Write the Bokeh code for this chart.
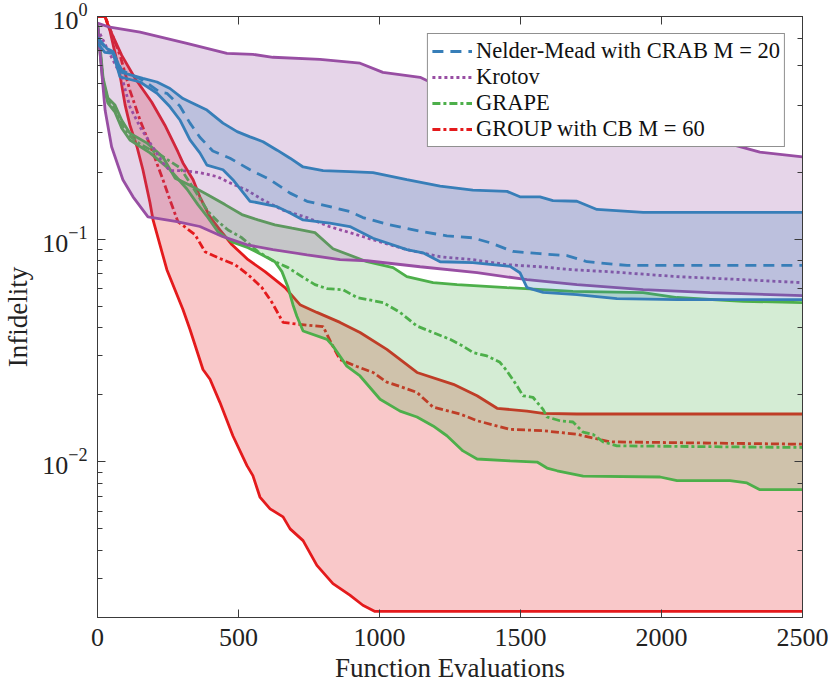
import numpy as np
from bokeh.plotting import figure
from bokeh.models import (LogAxis, LinearAxis, Legend, LegendItem, Range1d,
                          FixedTicker, LogTicker)
from bokeh.embed import file_html
from bokeh.resources import INLINE

# ---------------- data (function evaluations, infidelity) ----------------
# Nelder-Mead with CRAB M = 20 (blue)
nm_hi_x = [0, 33, 55, 86, 161, 211, 257, 303, 338, 388, 445, 495, 541, 587, 637, 683, 729, 800, 895, 977,
           1097, 1215, 1331, 1452, 1498, 1569, 1615, 1700, 1771, 1935, 2500]
nm_hi_y = [0.805, 0.719, 0.697, 0.561, 0.527, 0.508, 0.475, 0.428, 0.408, 0.380, 0.332, 0.304, 0.288, 0.274,
           0.251, 0.231, 0.211, 0.203, 0.201, 0.199, 0.185, 0.173, 0.166, 0.164, 0.155, 0.155, 0.149, 0.148,
           0.136, 0.132, 0.132]
nm_lo_x = [0, 26, 55, 80, 151, 211, 257, 293, 328, 363, 388, 445, 480, 541, 637, 683, 729, 824, 895, 977,
           1097, 1154, 1215, 1331, 1463, 1498, 1523, 1580, 1700, 1842, 2055, 2500]
nm_lo_y = [0.757, 0.690, 0.683, 0.535, 0.508, 0.452, 0.393, 0.342, 0.279, 0.244, 0.215, 0.205, 0.185, 0.148,
           0.140, 0.131, 0.122, 0.118, 0.114, 0.101, 0.0897, 0.0869, 0.0792, 0.0784, 0.0755, 0.0707, 0.0606,
           0.0577, 0.0564, 0.0541, 0.0535, 0.0535]
nm_med_x = [0, 33, 55, 86, 161, 221, 246, 292, 328, 363, 409, 470, 541, 612, 683, 743, 824, 895, 941, 1037,
            1154, 1239, 1331, 1392, 1473, 1569, 1665, 1736, 1878, 2500]
nm_med_y = [0.797, 0.712, 0.690, 0.573, 0.517, 0.458, 0.452, 0.396, 0.332, 0.287, 0.249, 0.231, 0.205, 0.185,
            0.161, 0.148, 0.140, 0.133, 0.125, 0.116, 0.108, 0.1035, 0.1014, 0.0964, 0.0881, 0.0861, 0.0843,
            0.0792, 0.0762, 0.0762]

# Krotov (purple)
kr_hi_x = [0, 44, 151, 317, 459, 551, 622, 789, 931, 1012, 1144, 1225, 1346, 1509, 1700, 1878, 2055, 2232,
           2349, 2500]
kr_hi_y = [0.933, 0.895, 0.85, 0.757, 0.683, 0.676, 0.656, 0.642, 0.617, 0.561, 0.533, 0.476, 0.421, 0.392,
           0.353, 0.318, 0.299, 0.270, 0.246, 0.234]
kr_lo_x = [0, 9, 27, 50, 90, 126, 179, 282, 363, 445, 530, 622, 743, 860, 956, 1144, 1346, 1523, 1700, 1935,
           2172, 2500]
kr_lo_y = [0.912, 0.683, 0.379, 0.260, 0.185, 0.155, 0.126, 0.120, 0.114, 0.1026, 0.0944, 0.0897, 0.0851,
           0.081, 0.080, 0.0752, 0.0707, 0.0658, 0.0625, 0.0593, 0.0575, 0.0558]
kr_med_x = [0, 37, 86, 115, 151, 197, 232, 257, 303, 363, 424, 470, 530, 587, 658, 743, 824, 895, 977, 1097,
            1215, 1331, 1452, 1569, 1686, 1817, 2055, 2289, 2500]
kr_med_y = [0.884, 0.705, 0.535, 0.393, 0.319, 0.258, 0.220, 0.203, 0.203, 0.199, 0.191, 0.179, 0.166, 0.150,
            0.135, 0.125, 0.1137, 0.107, 0.0994, 0.0897, 0.0834, 0.0809, 0.0768, 0.0752, 0.0729, 0.0714,
            0.0679, 0.0658, 0.0638]

# GRAPE (green)
gr_hi_x = [0, 9, 20, 37, 62, 86, 115, 176, 232, 275, 346, 392, 452, 512, 569, 629, 690, 771, 835, 956,
           1048, 1097, 1190, 1275, 1452, 1686, 1935, 2055, 2289, 2500]
gr_hi_y = [0.94, 0.734, 0.528, 0.430, 0.400, 0.342, 0.299, 0.270, 0.234, 0.188, 0.170, 0.158, 0.143, 0.129,
           0.122, 0.116, 0.112, 0.107, 0.0906, 0.0792, 0.0745, 0.0679, 0.0638, 0.0625, 0.0606, 0.0583,
           0.0575, 0.0547, 0.0526, 0.0519]
gr_lo_x = [0, 9, 20, 37, 62, 86, 115, 186, 257, 317, 356, 392, 427, 477, 534, 583, 629, 654, 676, 693,
           707, 729, 814, 835, 884, 931, 1002, 1073, 1133, 1190, 1239, 1296, 1346, 1463, 1559, 1594, 1630,
           1722, 1995, 2055, 2243, 2303, 2349, 2500]
gr_lo_y = [0.921, 0.690, 0.496, 0.408, 0.372, 0.315, 0.279, 0.244, 0.205, 0.168, 0.143, 0.125, 0.108,
           0.0973, 0.0916, 0.0851, 0.0792, 0.0715, 0.0606, 0.0508, 0.0451, 0.0387, 0.0355, 0.0331, 0.0269,
           0.0243, 0.0191, 0.0169, 0.0159, 0.0145, 0.0131, 0.0112, 0.0103, 0.0101, 0.00998, 0.00938,
           0.00912, 0.00863, 0.00855, 0.00823, 0.00823, 0.00804, 0.0075, 0.0075]
gr_med_x = [0, 9, 20, 37, 62, 86, 115, 151, 222, 293, 346, 392, 427, 463, 512, 569, 629, 676, 725, 771,
            814, 871, 920, 1013, 1073, 1133, 1190, 1250, 1296, 1331, 1381, 1427, 1452, 1488, 1509, 1544,
            1580, 1594, 1640, 1686, 1722, 1757, 1793, 1842, 2500]
gr_med_y = [0.93, 0.712, 0.512, 0.421, 0.388, 0.329, 0.290, 0.267, 0.239, 0.209, 0.165, 0.133, 0.120,
            0.110, 0.1014, 0.0879, 0.0792, 0.0745, 0.0679, 0.0625, 0.060, 0.0593, 0.0547, 0.0519, 0.0469,
            0.0407, 0.0381, 0.0355, 0.0331, 0.0310, 0.0299, 0.0280, 0.0256, 0.0219, 0.0198, 0.0195, 0.0172,
            0.0159, 0.0153, 0.0151, 0.0136, 0.0133, 0.0123, 0.0118, 0.0116]

# GROUP with CB M = 60 (red)
ru_x = [0, 27, 37, 86, 133, 192, 239, 285, 303, 339, 363, 399, 434, 477, 534, 594, 665, 718, 778, 860,
        931, 1026, 1133, 1262, 1346, 1417, 1523, 1580, 1700, 2500]
ru_y = [1.0, 1.0, 0.912, 0.669, 0.528, 0.413, 0.325, 0.247, 0.220, 0.185, 0.155, 0.126, 0.110, 0.0944,
        0.0809, 0.0715, 0.0606, 0.0508, 0.0469, 0.0423, 0.0381, 0.0320, 0.0252, 0.0223, 0.0198, 0.0174,
        0.0169, 0.0165, 0.0164, 0.0164]
rl_x = [0, 27, 44, 80, 98, 115, 140, 161, 186, 197, 246, 303, 328, 374, 399, 434, 480, 530, 551, 576,
        612, 658, 683, 729, 778, 835, 895, 941, 984, 2500]
rl_y = [1.0, 1.0, 0.866, 0.544, 0.400, 0.325, 0.26, 0.205, 0.146, 0.122, 0.0729, 0.0483, 0.0393, 0.0260,
        0.0235, 0.0185, 0.0131, 0.00962, 0.00867, 0.00695, 0.00615, 0.00566, 0.0050, 0.00443, 0.00343,
        0.00284, 0.00252, 0.00227, 0.00213, 0.00213]
rm_x = [0, 27, 44, 80, 115, 151, 197, 232, 257, 285, 346, 381, 427, 488, 534, 583, 619, 658, 718, 800,
        835, 860, 920, 977, 1026, 1073, 1133, 1190, 1286, 1346, 1463, 1580, 1700, 1817, 2500]
rm_y = [1.0, 1.0, 0.884, 0.669, 0.466, 0.342, 0.244, 0.185, 0.150, 0.120, 0.1047, 0.0879, 0.0826, 0.0768,
        0.0693, 0.0606, 0.0519, 0.0423, 0.0414, 0.0405, 0.0330, 0.0288, 0.0268, 0.0252, 0.0228, 0.0218,
        0.0205, 0.0176, 0.0164, 0.0153, 0.0140, 0.0138, 0.0133, 0.0123, 0.0120]

labels = ["Nelder-Mead with CRAB M = 20", "Krotov", "GRAPE", "GROUP with CB M = 60"]
x_ticks = [0, 500, 1000, 1500, 2000, 2500]

# ---------------- figure ----------------
FONT = "Liberation Serif"
p = figure(width=829, height=685, x_range=Range1d(0, 2500), y_range=Range1d(0.002, 1.0),
           y_axis_type="log", output_backend="svg", toolbar_location=None,
           min_border_left=97, min_border_right=27, min_border_top=16, min_border_bottom=68)
p.grid.visible = False
p.outline_line_color = "#3a3a3a"
p.outline_line_width = 1
p.background_fill_color = "white"
p.border_fill_color = "white"

BLUE, PURPLE, GREEN, RED = "#377eb8", "#984ea3", "#4daf4a", "#e41a1c"
FA = 0.24
LW = 2.8

def band(hx, hy, lx, ly, color):
    p.patch(list(hx) + list(lx)[::-1], list(hy) + list(ly)[::-1],
            fill_color=color, fill_alpha=FA, line_color=None)

# draw in order red, green, purple, blue (later fills tint earlier lines)
band(ru_x, ru_y, rl_x, rl_y, RED)
p.line(ru_x, ru_y, line_color=RED, line_width=LW)
p.line(rl_x, rl_y, line_color=RED, line_width=LW)
r_red = p.line(rm_x, rm_y, line_color=RED, line_width=LW, line_dash="8 3 3 3")

band(gr_hi_x, gr_hi_y, gr_lo_x, gr_lo_y, GREEN)
p.line(gr_hi_x, gr_hi_y, line_color=GREEN, line_width=LW)
p.line(gr_lo_x, gr_lo_y, line_color=GREEN, line_width=LW)
r_green = p.line(gr_med_x, gr_med_y, line_color=GREEN, line_width=LW, line_dash="8 3 3 3")

band(kr_hi_x, kr_hi_y, kr_lo_x, kr_lo_y, PURPLE)
p.line(kr_hi_x, kr_hi_y, line_color=PURPLE, line_width=LW)
p.line(kr_lo_x, kr_lo_y, line_color=PURPLE, line_width=LW)
r_purple = p.line(kr_med_x, kr_med_y, line_color=PURPLE, line_width=LW, line_dash="3 3")

band(nm_hi_x, nm_hi_y, nm_lo_x, nm_lo_y, BLUE)
p.line(nm_hi_x, nm_hi_y, line_color=BLUE, line_width=LW)
p.line(nm_lo_x, nm_lo_y, line_color=BLUE, line_width=LW)
r_blue = p.line(nm_med_x, nm_med_y, line_color=BLUE, line_width=LW, line_dash="11 7")

# ---------------- axes ----------------
def style_axis(ax, show_labels=True):
    ax.axis_line_color = "#3a3a3a"
    ax.major_tick_line_color = "#3a3a3a"
    ax.minor_tick_line_color = "#3a3a3a"
    ax.major_tick_in = 8
    ax.major_tick_out = 0
    ax.minor_tick_in = 5
    ax.minor_tick_out = 0
    ax.major_label_text_font = FONT
    ax.major_label_text_line_height = 1.0
    if show_labels:
        ax.major_label_text_font_size = "26px"
        ax.major_label_text_color = "#222222"
    else:
        ax.major_label_text_font_size = "1px"
        ax.major_label_text_color = None
        ax.major_label_standoff = 0
        ax.axis_label_standoff = 0
    ax.axis_label_text_font = FONT
    ax.axis_label_text_font_size = "27px"
    ax.axis_label_text_line_height = 1.0
    ax.axis_label_text_font_style = "normal"
    ax.axis_label_text_color = "#222222"

xa = p.xaxis[0]
xa.ticker = FixedTicker(ticks=x_ticks)
style_axis(xa)
xa.minor_tick_line_color = None
xa.axis_label = "Function Evaluations"
xa.major_label_standoff = 11
xa.axis_label_standoff = 4

ya = p.yaxis[0]
style_axis(ya)
ya.axis_label = "Infidelity"
ya.major_label_standoff = 10
ya.axis_label_standoff = 6

top = LinearAxis(ticker=FixedTicker(ticks=x_ticks))
style_axis(top, False)
top.minor_tick_line_color = None
p.add_layout(top, "above")

right = LogAxis(ticker=LogTicker())
style_axis(right, False)
p.add_layout(right, "right")

# ---------------- legend ----------------
legend = Legend(items=[LegendItem(label=labels[0], renderers=[r_blue]),
                       LegendItem(label=labels[1], renderers=[r_purple]),
                       LegendItem(label=labels[2], renderers=[r_green]),
                       LegendItem(label=labels[3], renderers=[r_red])],
                location="top_right")
legend.label_text_font = FONT
legend.label_text_font_size = "22.5px"
legend.label_text_color = "#111111"
legend.glyph_width = 40
legend.glyph_height = 22
legend.label_height = 22
legend.label_standoff = 4
legend.spacing = 0
legend.padding = 4
legend.margin = 17
legend.border_line_color = "#222222"
legend.border_line_width = 1
legend.background_fill_alpha = 1.0
p.add_layout(legend)

open("out.html", "w").write(file_html(p, INLINE))
